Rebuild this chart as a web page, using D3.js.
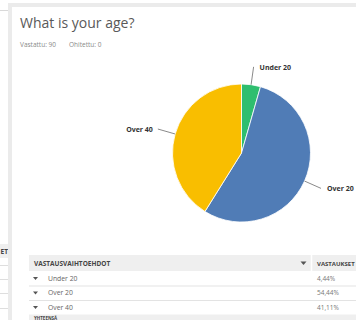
<!DOCTYPE html>
<html>
<head>
<meta charset="utf-8">
<script src="https://cdn.jsdelivr.net/npm/d3@7/dist/d3.min.js"></script>
<style>
  html, body { margin: 0; padding: 0; background: #fff; }
  svg { display: block; }
</style>
</head>
<body>
<svg id="chart" width="356" height="320"></svg>
<script>
// Survey question: answer options and their share of respondents (%)
const categories = ["Under 20", "Over 20", "Over 40"];
const percentages = [4.44, 54.44, 41.11];
const percentLabels = ["4,44%", "54,44%", "41,11%"];
const colors = ["#2fbe6f", "#507cb6", "#f9be00"];

const questionTitle = "What is your age?";
const answeredText = "Vastattu: 90";
const skippedText = "Ohitettu: 0";
const optionsHeader = "VASTAUSVAIHTOEHDOT";
const responsesHeader = "VASTAUKSET";
const totalLabel = "YHTEENSÄ";

const svg = d3.select("#chart");
const font = "'Open Sans', 'Noto Sans', sans-serif";

// ---- page chrome: neighbouring panel and card frame ----
const chrome = svg.append("g");
chrome.append("rect").attr("x", 0).attr("y", 0).attr("width", 356).attr("height", 320).attr("fill", "#fff");
// left neighbour panel
chrome.append("line").attr("x1", 0).attr("x2", 8).attr("y1", 10.5).attr("y2", 10.5)
  .attr("stroke", "#d9d9d9").attr("stroke-width", 1);
chrome.append("rect").attr("x", 0).attr("y", 244).attr("width", 8).attr("height", 14).attr("fill", "#efefef");
chrome.append("text").attr("x", 8).attr("y", 254).attr("text-anchor", "end")
  .attr("font-family", font).attr("font-size", 6.5).attr("font-weight", 700).attr("fill", "#444").text("ET");
[265, 279, 293, 308].forEach(y => chrome.append("line").attr("x1", 0).attr("x2", 8)
  .attr("y1", y + 0.5).attr("y2", y + 0.5).attr("stroke", "#dedede"));
// card borders
chrome.append("rect").attr("x", 8).attr("y", 3).attr("width", 348).attr("height", 4).attr("fill", "#ebebeb");
chrome.append("rect").attr("x", 8).attr("y", 3).attr("width", 4).attr("height", 317).attr("fill", "#ebebeb");

// ---- heading ----
svg.append("text").attr("x", 20).attr("y", 27.5)
  .attr("font-family", font).attr("font-size", 14).attr("fill", "#595959")
  .text(questionTitle);
svg.append("text").attr("x", 20).attr("y", 46.5)
  .attr("font-family", font).attr("font-size", 6.5).attr("fill", "#8a8a8a")
  .text(answeredText);
svg.append("text").attr("x", 69).attr("y", 46.5)
  .attr("font-family", font).attr("font-size", 6.5).attr("fill", "#8a8a8a")
  .text(skippedText);

// ---- pie ----
const cx = 241.5, cy = 153, r = 69;
const pie = d3.pie().sort(null).value(d => d.value);
const data = categories.map((c, i) => ({ name: c, value: percentages[i], color: colors[i] }));
const arcs = pie(data);
const arc = d3.arc().innerRadius(0).outerRadius(r);

const pieG = svg.append("g").attr("transform", `translate(${cx},${cy})`);
pieG.selectAll("path.slice").data(arcs).join("path")
  .attr("class", "slice")
  .attr("d", arc)
  .attr("fill", d => d.data.color)
  .attr("stroke", "#fff")
  .attr("stroke-width", 0.8);

// leader lines and labels, placed radially at each slice's mid-angle
arcs.forEach(d => {
  const mid = (d.startAngle + d.endAngle) / 2;
  const p0 = [Math.sin(mid) * r, -Math.cos(mid) * r];
  const p1 = [Math.sin(mid) * (r + 18), -Math.cos(mid) * (r + 18)];
  const right = Math.sin(mid) >= 0;
  pieG.append("line")
    .attr("x1", p0[0]).attr("y1", p0[1]).attr("x2", p1[0]).attr("y2", p1[1])
    .attr("stroke", "#6b6b6b").attr("stroke-width", 0.8);
  pieG.append("text")
    .attr("x", p1[0] + (right ? 6 : -5))
    .attr("y", p1[1] + 1)
    .attr("dominant-baseline", "middle")
    .attr("text-anchor", right ? "start" : "end")
    .attr("font-family", font).attr("font-size", 7).attr("font-weight", 700).attr("fill", "#333")
    .text(d.data.name);
});

// ---- summary table ----
const tableX = 29, dividerX = 311, rowH = 14.5, headerY = 255, headerH = 16;
const table = svg.append("g");
table.append("rect").attr("x", tableX).attr("y", headerY).attr("width", 356 - tableX).attr("height", headerH).attr("fill", "#efefef");
table.append("line").attr("x1", dividerX + 0.5).attr("x2", dividerX + 0.5).attr("y1", headerY).attr("y2", headerY + headerH)
  .attr("stroke", "#fff").attr("stroke-width", 1.5);
table.append("text").attr("x", 34).attr("y", headerY + 10.5)
  .attr("font-family", font).attr("font-size", 6.5).attr("font-weight", 700).attr("fill", "#444").text(optionsHeader);
table.append("path").attr("d", `M300.5,${headerY + 6.5} l6,0 l-3,3.5 z`).attr("fill", "#555");
table.append("text").attr("x", 317).attr("y", headerY + 10.5)
  .attr("font-family", font).attr("font-size", 6).attr("font-weight", 700).attr("fill", "#444").text(responsesHeader);

categories.forEach((c, i) => {
  const y0 = headerY + headerH + i * rowH;
  table.append("path").attr("d", `M33,${y0 + 6} l5,0 l-2.5,3 z`).attr("fill", "#555");
  table.append("text").attr("x", 48).attr("y", y0 + 9.5)
    .attr("font-family", font).attr("font-size", 6.8).attr("fill", "#666").text(c);
  table.append("text").attr("x", 317).attr("y", y0 + 9.5)
    .attr("font-family", font).attr("font-size", 6.5).attr("fill", "#777").text(percentLabels[i]);
  if (i < categories.length - 1) {
    table.append("line").attr("x1", tableX).attr("x2", 356)
      .attr("y1", y0 + rowH + 0.5).attr("y2", y0 + rowH + 0.5).attr("stroke", "#e3e3e3");
  }
});
const totalY = headerY + headerH + categories.length * rowH;
table.append("rect").attr("x", tableX).attr("y", totalY).attr("width", 356 - tableX).attr("height", 6).attr("fill", "#efefef");
table.append("text").attr("x", 34).attr("y", totalY + 5)
  .attr("font-family", font).attr("font-size", 4.5).attr("font-weight", 700).attr("fill", "#444").text(totalLabel);
</script>
</body>
</html>
